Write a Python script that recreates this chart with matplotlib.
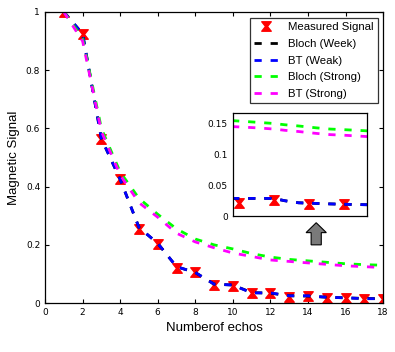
import matplotlib
matplotlib.use("Agg")
import matplotlib.pyplot as plt
import numpy as np
from matplotlib.path import Path
from matplotlib.patches import FancyArrow

plt.rcParams['font.family'] = ['Liberation Sans', 'DejaVu Sans']

echos = np.arange(1, 19)
measured = [1.0, 0.925, 0.565, 0.425, 0.255, 0.203, 0.122, 0.107, 0.062, 0.057,
            0.033, 0.033, 0.022, 0.024, 0.016, 0.018, 0.014, 0.014]
bloch_weak = [1.0, 0.925, 0.565, 0.425, 0.26, 0.205, 0.125, 0.105, 0.065, 0.062,
              0.036, 0.034, 0.025, 0.024, 0.02, 0.018, 0.016, 0.015]
bt_weak = [1.0, 0.925, 0.565, 0.425, 0.26, 0.205, 0.125, 0.105, 0.065, 0.062,
           0.035, 0.035, 0.025, 0.025, 0.02, 0.018, 0.015, 0.015]
bloch_strong = [1.0, 0.91, 0.6, 0.45, 0.36, 0.305, 0.255, 0.22, 0.2, 0.186,
                0.17, 0.158, 0.15, 0.145, 0.14, 0.135, 0.132, 0.13]
bt_strong = [1.0, 0.9, 0.59, 0.44, 0.345, 0.295, 0.24, 0.21, 0.19, 0.172,
             0.16, 0.148, 0.143, 0.138, 0.133, 0.128, 0.125, 0.122]

# zoomed-in detail (inset)
inset_x = [1, 2, 3, 4]
inset_measured = [0.022, 0.026, 0.019, 0.0195]
inset_model_x = [0.8, 1.5, 2.0, 2.3, 2.7, 3.2, 3.6, 4.0, 4.7]
inset_bt_weak = [0.0287, 0.0287, 0.0287, 0.025, 0.0216, 0.0206, 0.0198, 0.0192, 0.0184]
inset_bloch_strong = [0.1547, 0.152, 0.150, 0.148, 0.146, 0.143, 0.141, 0.140, 0.138]
inset_bt_strong = [0.145, 0.143, 0.141, 0.139, 0.137, 0.134, 0.132, 0.131, 0.1287]

hourglass = Path([(-1, 1), (1, 1), (0.2, 0), (1, -1), (-1, -1), (-0.2, 0), (-1, 1)],
                 [Path.MOVETO, Path.LINETO, Path.LINETO, Path.LINETO, Path.LINETO,
                  Path.LINETO, Path.CLOSEPOLY])

fig = plt.figure(figsize=(3.95, 3.52), dpi=100)
ax = fig.add_axes([0.114, 0.139, 0.856, 0.827])

dash = (2.6, 3.2)
ax.plot(echos, measured, linestyle='none', marker=hourglass, markersize=6.8,
        color='red', markeredgecolor='red', label='Measured Signal')
ax.plot(echos, bloch_weak, '--', color='black', lw=2, dashes=dash, label='Bloch (Week)')
ax.plot(echos, bt_weak, '--', color='blue', lw=2, dashes=dash, label='BT (Weak)')
ax.plot(echos, bloch_strong, '--', color='#00ff00', lw=2, dashes=dash, label='Bloch (Strong)')
ax.plot(echos, bt_strong, '--', color='magenta', lw=2, dashes=dash, label='BT (Strong)')

ax.set_xlim(0, 18)
ax.set_ylim(0, 1)
ax.set_xticks(np.arange(0, 19, 2))
ax.set_yticks([0, 0.2, 0.4, 0.6, 0.8, 1])
ax.set_yticklabels(['0', '0.2', '0.4', '0.6', '0.8', '1'])
ax.tick_params(direction='in', top=True, right=True, labelsize=6.5, length=3, width=0.8)
for lab in ax.get_xticklabels() + ax.get_yticklabels():
    lab.set_family('DejaVu Sans')
for s in ax.spines.values():
    s.set_linewidth(0.9)
ax.set_xlabel('Numberof echos', fontsize=9.5)
ax.set_ylabel('Magnetic Signal', fontsize=9.5)

leg = ax.legend(loc='upper right', bbox_to_anchor=(0.986, 0.98), fontsize=8.2,
                frameon=True, fancybox=False, borderaxespad=0, handlelength=2.1,
                handletextpad=0.9, labelspacing=0.58, borderpad=0.4)
leg.get_frame().set_edgecolor('black')
leg.get_frame().set_linewidth(0.9)

# inset
axin = fig.add_axes([0.591, 0.386, 0.339, 0.293])
axin.plot(inset_x, inset_measured, linestyle='none', marker=hourglass, markersize=6.8,
          color='red', markeredgecolor='red')
axin.plot(inset_model_x, inset_bt_weak, '--', color='black', lw=2, dashes=dash)
axin.plot(inset_model_x, inset_bt_weak, '--', color='blue', lw=2, dashes=dash)
axin.plot(inset_model_x, inset_bloch_strong, '--', color='#00ff00', lw=2, dashes=dash)
axin.plot(inset_model_x, inset_bt_strong, '--', color='magenta', lw=2, dashes=dash)
axin.set_xlim(0.84, 4.67)
axin.set_ylim(0, 0.167)
axin.set_xticks([])
axin.set_yticks([0, 0.05, 0.1, 0.15])
axin.set_yticklabels(['0', '0.05', '0.1', '0.15'])
axin.tick_params(direction='in', labelsize=6.5, length=0, pad=4)
for lab in axin.get_yticklabels():
    lab.set_family('DejaVu Sans')
for s in axin.spines.values():
    s.set_linewidth(0.9)

# arrow pointing up to the inset
arrow = FancyArrow(0.802, 0.2, 0, 0.076, width=0.03, head_width=0.06,
                   head_length=0.034, length_includes_head=True,
                   transform=ax.transAxes, facecolor='#7a7a7a', edgecolor='black', lw=0.8)
ax.add_patch(arrow)

fig.savefig('out.png', dpi=100)
